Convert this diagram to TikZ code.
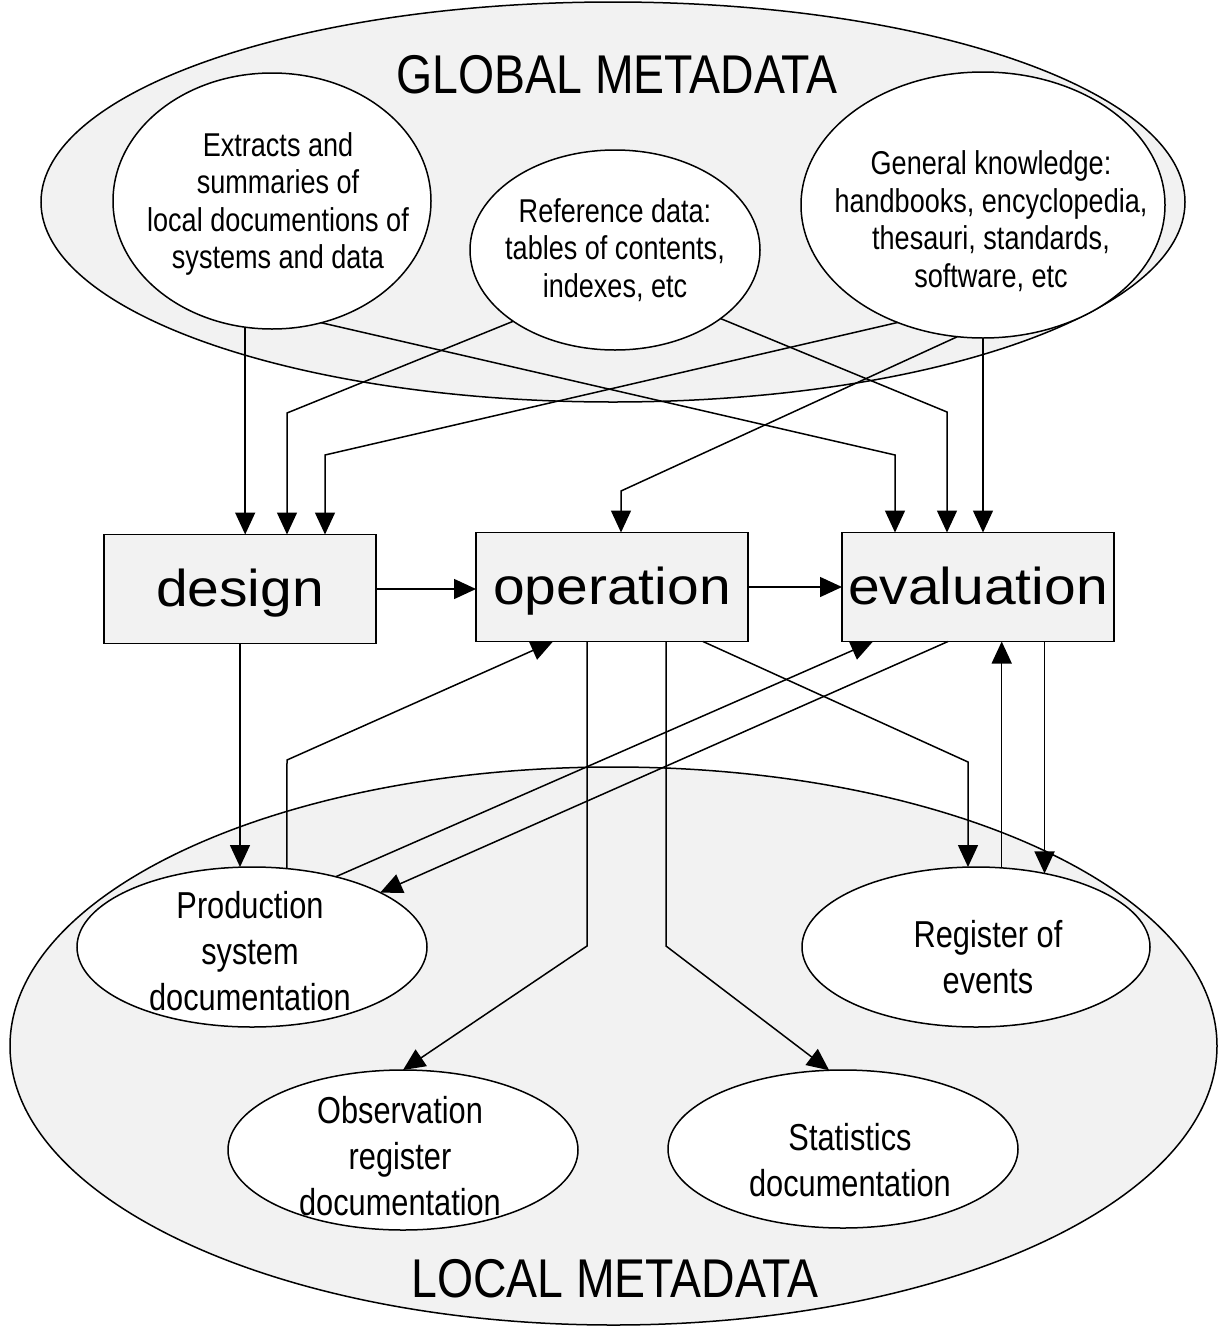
\documentclass[tikz,border=0pt]{standalone}
\usepackage{fontspec}
\setmainfont{Liberation Sans}[FakeStretch=0.82]
\newfontfamily\phasefont{Liberation Sans}[FakeStretch=1.1]
\newfontfamily\titlefont{Liberation Sans}[FakeStretch=0.85]
\usetikzlibrary{arrows.meta, shapes.geometric}

\begin{document}
\begin{tikzpicture}[x=0.5pt, y=-0.5pt, line width=0.75pt,
    meta/.style={ellipse, draw, fill=gray!10, inner sep=0pt, outer sep=0pt},
    doc/.style={ellipse, draw, fill=white, inner sep=0pt, outer sep=0pt},
    phase/.style={rectangle, draw, fill=gray!10, minimum width=136pt, minimum height=54.5pt,
        inner sep=0pt, outer sep=0pt, text height=20pt, text depth=3pt,
        font=\phasefont\fontsize{25.9pt}{28pt}\selectfont},
    title/.style={font=\titlefont\fontsize{27.3pt}{30pt}\selectfont},
    smalltxt/.style={align=center, font=\fontsize{16.5pt}{18.75pt}\selectfont},
    bigtxt/.style={align=center, font=\fontsize{18.75pt}{23pt}\selectfont},
    flow/.style={-{Triangle[length=11pt, width=10pt]}}]
	\useasboundingbox (0,0) rectangle (1222,1328);

	% global and local metadata
	\node[meta, minimum width=572pt, minimum height=200pt] (glob) at (613,202) {};
	\node[meta, minimum width=603.5pt, minimum height=279pt] (loc) at (613.5,1046) {};
	\node[title] (globtxt) at (617,75) {GLOBAL METADATA};
	\node[title] (loctxt) at (615,1279) {LOCAL METADATA};

	% sources of global metadata
	\node[doc, minimum width=159pt, minimum height=128pt] (extr) at (272,201) {};
	\node[doc, minimum width=145pt, minimum height=100pt] (refd) at (615,250) {};
	\node[doc, minimum width=182pt, minimum height=133pt] (genk) at (983,205) {};
	\node[smalltxt] (extrtxt) at (278,204) {Extracts and\\summaries of\\local documentions of\\systems and data};
	\node[smalltxt] (refdtxt) at (615,250) {Reference data:\\tables of contents,\\indexes, etc};
	\node[smalltxt] (genktxt) at (991,221) {General knowledge:\\handbooks, encyclopedia,\\thesauri, standards,\\software, etc};

	% phases
	\node[phase] (dsg) at (240,589) {design};
	\node[phase] (opr) at (612,587) {operation};
	\node[phase] (evl) at (978,587) {evaluation};

	% local documentation
	\node[doc, minimum width=175pt, minimum height=80pt] (prod) at (252,947) {};
	\node[doc, minimum width=174pt, minimum height=80pt] (reg) at (976,947) {};
	\node[doc, minimum width=175pt, minimum height=80pt] (obs) at (403,1150) {};
	\node[doc, minimum width=175pt, minimum height=79pt] (stat) at (843,1149) {};
	\node[bigtxt] (prodtxt) at (250,951) {Production\\system\\documentation};
	\node[bigtxt] (regtxt) at (988,957) {Register of\\events};
	\node[bigtxt] (obstxt) at (400,1156) {Observation\\register\\documentation};
	\node[bigtxt] (stattxt) at (850,1160) {Statistics\\documentation};

	% global metadata to the phases
	\draw[flow] (extr.258) -- (extr.258 |- dsg.north);
	\coordinate (b2) at (287,413);
	\draw[flow] (refd.215) -- (b2) -- (b2 |- dsg.north);
	\coordinate (b3) at (325,455);
	\draw[flow] (genk.234) -- (b3) -- (b3 |- dsg.north);
	\coordinate (b4) at (895,455);
	\draw[flow] (extr.292) -- (b4) -- (b4 |- evl.north);
	\coordinate (b5) at (947,412);
	\draw[flow] (refd.327) -- (b5) -- (b5 |- evl.north);
	\draw[flow] (genk.south) -- (genk.south |- evl.north);
	\coordinate (b7) at (621,491);
	\draw[flow] (genk.259) -- (b7) -- (b7 |- opr.north);

	% between the phases
	\draw[flow] (dsg.east) -- (dsg.east -| opr.west);
	\draw[flow] (opr.east) -- (opr.east -| evl.west);

	% phases and local metadata
	\draw[flow] (dsg.south) -- (dsg.south |- prod.north);
	\coordinate (b9) at (287,760);
	\draw[flow] (prod.66) -- (b9) -- ([xshift=38.5pt]opr.south west);
	\draw[flow] (prod.40) -- ([xshift=15.5pt]evl.south west);
	\draw[flow] ([xshift=53pt]evl.south west) -- (prod.23);
	\coordinate (b12) at (968,762);
	\draw[flow] ([xshift=-22.5pt]opr.south east) -- (b12) -- (b12 |- reg.north);
	\draw[flow] (reg.72) -- (reg.72 |- evl.south);
	\draw[flow] (reg.47 |- evl.south) -- (reg.47);
	\coordinate (b15) at (587,946);
	\draw[flow] ([xshift=-12.5pt]opr.south) -- (b15) -- (obs.north);
	\coordinate (b16) at (666,946);
	\draw[flow] ([xshift=27pt]opr.south) -- (b16) -- (stat.100);
\end{tikzpicture}
\end{document}
